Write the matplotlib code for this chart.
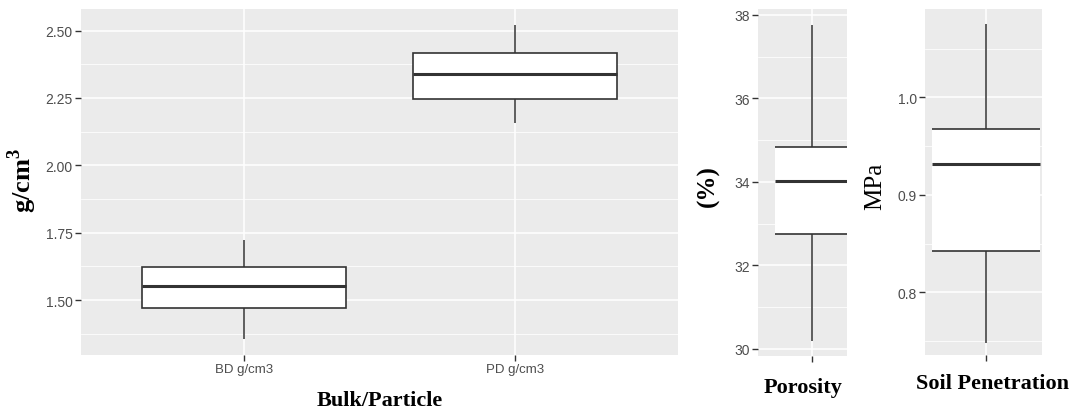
import numpy as np
import matplotlib
matplotlib.use('Agg')
import matplotlib.pyplot as plt
from matplotlib.patches import Rectangle
from matplotlib.ticker import MultipleLocator, FormatStrFormatter

# box statistics
cats = ['BD g/cm3', 'PD g/cm3']
bp_lo = [1.355, 2.157]
bp_q1 = [1.469, 2.246]
bp_med = [1.551, 2.337]
bp_q3 = [1.621, 2.416]
bp_hi = [1.724, 2.522]

por_stats = [30.20, 32.76, 34.03, 34.84, 37.76]   # lo, q1, med, q3, hi
pen_stats = [0.748, 0.842, 0.932, 0.968, 1.075]

plt.rcParams['font.family'] = ['Liberation Sans', 'DejaVu Sans']
plt.rcParams['mathtext.fontset'] = 'custom'
plt.rcParams['mathtext.rm'] = 'Liberation Serif'
plt.rcParams['mathtext.bf'] = 'Liberation Serif:bold'

W, H = 1070, 414
fig = plt.figure(figsize=(W / 100, H / 100), dpi=100)


def px_axes(l, t, r, b):
    return fig.add_axes([l / W, 1 - b / H, (r - l) / W, (b - t) / H])


def style(ax, major, minor, fmt):
    ax.set_facecolor('#EBEBEB')
    for s in ax.spines.values():
        s.set_visible(False)
    ax.yaxis.set_major_locator(MultipleLocator(major))
    ax.yaxis.set_minor_locator(MultipleLocator(minor))
    ax.yaxis.set_major_formatter(FormatStrFormatter(fmt))
    ax.grid(True, which='major', color='white', lw=1.1)
    ax.grid(True, which='minor', axis='y', color='white', lw=0.55)
    ax.set_axisbelow(True)
    ax.tick_params(which='major', length=4, width=1, color='#333333',
                   labelcolor='#4d4d4d', labelsize=9.5, pad=2)
    ax.tick_params(axis='y', labelsize=10)
    ax.tick_params(which='minor', length=0)


def draw_box(ax, x, lo, q1, med, q3, hi, w=0.75, sides=True):
    ax.vlines(x, q3, hi, color='#333333', lw=1.1, zorder=3)
    ax.vlines(x, lo, q1, color='#333333', lw=1.1, zorder=3)
    if sides:
        ax.add_patch(Rectangle((x - w / 2, q1), w, q3 - q1, facecolor='white',
                               edgecolor='#333333', lw=1.2, zorder=3))
    else:
        ax.fill_between([x - w / 2, x + w / 2], q1, q3, color='white', lw=0, zorder=3)
        ax.hlines([q1, q3], x - w / 2, x + w / 2, color='#333333', lw=1.2, zorder=4)
    ax.hlines(med, x - w / 2, x + w / 2, color='#333333', lw=2.2, zorder=4)


# main panel
ax1 = px_axes(81, 10, 678, 356)
xs = np.arange(1, len(cats) + 1)
for i in range(len(cats)):
    draw_box(ax1, xs[i], bp_lo[i], bp_q1[i], bp_med[i], bp_q3[i], bp_hi[i])
ax1.set_xlim(0.4, 2.6)
ax1.set_ylim(1.296, 2.58)
ax1.set_xticks(xs)
ax1.set_xticklabels(cats)
style(ax1, 0.25, 0.125, '%.2f')

# porosity panel (cropped)
ax2 = px_axes(758, 10, 847, 357)
draw_box(ax2, 1, *por_stats, sides=False)
ax2.set_xlim(0.453, 1.355)
ax2.set_ylim(29.83, 38.14)
ax2.set_xticks([1])
ax2.set_xticklabels([''])
style(ax2, 2, 1, '%d')

# soil penetration panel (cropped)
ax3 = px_axes(925, 10, 1042, 356)
draw_box(ax3, 1, *pen_stats, sides=False)
ax3.set_xlim(0.576, 1.389)
ax3.set_ylim(0.7357, 1.0906)
ax3.set_xticks([1])
ax3.set_xticklabels([''])
style(ax3, 0.1, 0.05, '%.1f')

serif = 'Liberation Serif'
fig.text(22 / W, 1 - 180 / H, 'g/cm$^{\\mathbf{3}}$', rotation=90, ha='center', va='center',
         fontsize=19, fontweight='bold', family=serif)
fig.text(380 / W, 1 - 401 / H, 'Bulk/Particle', ha='center', va='center',
         fontsize=16, fontweight='bold', family=serif)
fig.text(708 / W, 1 - 186 / H, '(%)', rotation=90, ha='center', va='center',
         fontsize=18, fontweight='bold', family=serif)
fig.text(803 / W, 1 - 388 / H, 'Porosity', ha='center', va='center',
         fontsize=16, fontweight='bold', family=serif)
fig.text(875 / W, 1 - 186 / H, 'MPa', rotation=90, ha='center', va='center',
         fontsize=18, family=serif)
fig.text(992 / W, 1 - 384 / H, 'Soil Penetration', ha='center', va='center',
         fontsize=16, fontweight='bold', family=serif)

fig.savefig('out.png', dpi=100, facecolor='white')
